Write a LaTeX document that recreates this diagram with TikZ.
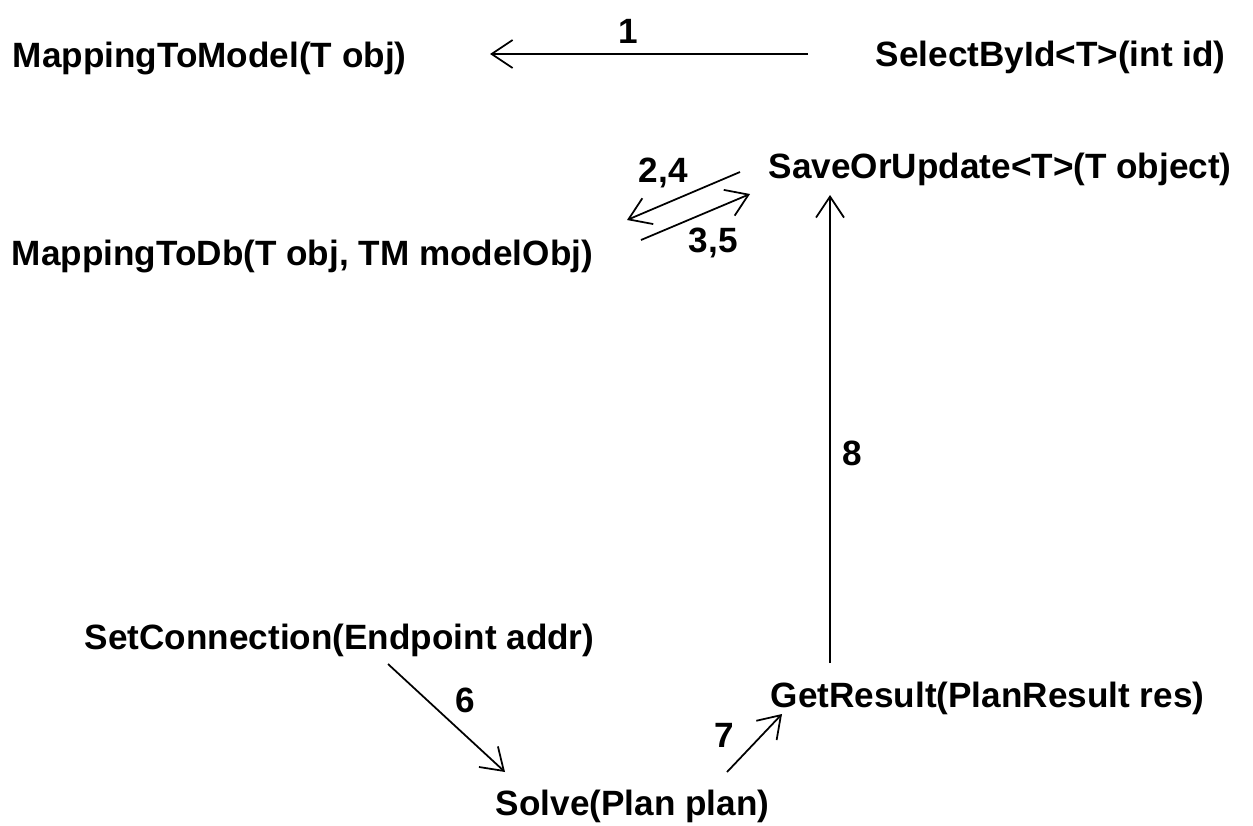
\documentclass[tikz,border=0pt]{standalone}
\usepackage{fontspec}
\setmainfont{Liberation Sans}
\usetikzlibrary{arrows.meta}

\begin{document}
\begin{tikzpicture}[->,>={Straight Barb[length=4.2mm,width=5.6mm]},x=0.02cm, y=-0.02cm, line width=1pt]
\tikzset{txt/.style={anchor=base west,inner sep=0,font=\fontsize{20}{24}\selectfont\bfseries}}
\useasboundingbox (0,0) rectangle (1253,825);

% methods
\node[txt] (model) at (12,67) {MappingToModel(T obj)};
\node[txt] (select) at (875,66) {SelectById<T>(int id)};
\node[txt] (save) at (768,178) {SaveOrUpdate<T>(T object)};
\node[txt] (todb) at (11,265) {MappingToDb(T obj, TM modelObj)};
\node[txt] (conn) at (84,649) {SetConnection(Endpoint addr)};
\node[txt] (result) at (770,707) {GetResult(PlanResult res)};
\node[txt] (solve) at (495,815) {Solve(Plan plan)};

% arrow ends
\coordinate (s1) at (808,54);
\coordinate (e1) at (490,54);
\coordinate (s2) at (740,172);
\coordinate (e2) at (627,220);
\coordinate (s3) at (641,240);
\coordinate (e3) at (750,194);
\coordinate (s8) at (830,663);
\coordinate (e8) at (830,195);
\coordinate (s6) at (388,664);
\coordinate (e6) at (505,772);
\coordinate (s7) at (727,772);
\coordinate (e7) at (782,714);

\draw (s1) -- (e1);
\draw (s2) -- (e2);
\draw (s3) -- (e3);
\draw (s8) -- (e8);
\draw (s6) -- (e6);
\draw (s7) -- (e7);

% step numbers
\node[txt] (n1) at (618,43) {1};
\node[txt] (n24) at (638,182) {2,4};
\node[txt] (n35) at (688,252) {3,5};
\node[txt] (n8) at (842,465) {8};
\node[txt] (n6) at (455,712) {6};
\node[txt] (n7) at (714,747) {7};

\end{tikzpicture}
\end{document}
